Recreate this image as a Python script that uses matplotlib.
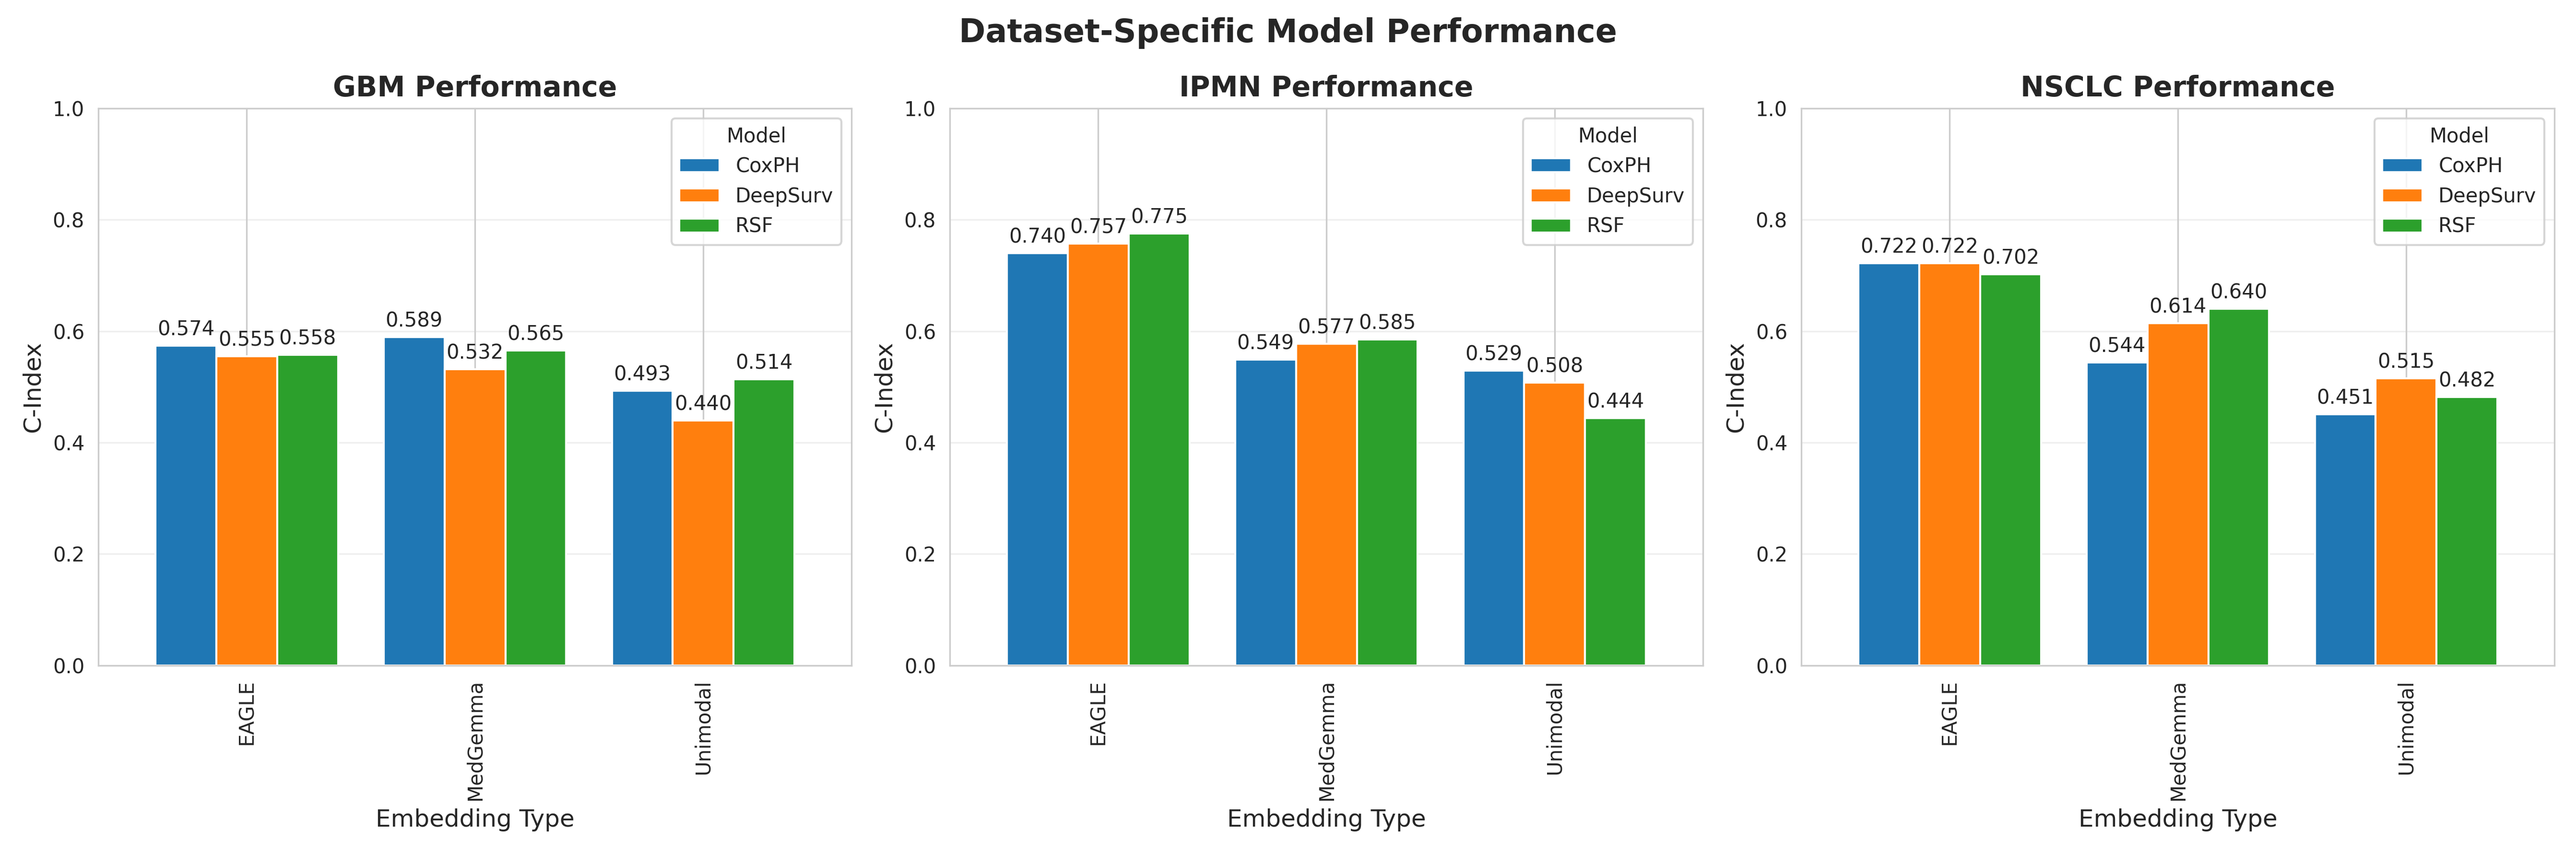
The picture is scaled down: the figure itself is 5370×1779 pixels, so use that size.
import matplotlib
matplotlib.use("Agg")
import matplotlib.pyplot as plt
import seaborn as sns
import pandas as pd

sns.set_style("whitegrid")

datasets = ["GBM", "IPMN", "NSCLC"]
embeddings = ["EAGLE", "MedGemma", "Unimodal"]
models = ["CoxPH", "DeepSurv", "RSF"]

gbm = {"CoxPH": [0.574, 0.589, 0.493], "DeepSurv": [0.555, 0.532, 0.440], "RSF": [0.558, 0.565, 0.514]}
ipmn = {"CoxPH": [0.740, 0.549, 0.529], "DeepSurv": [0.757, 0.577, 0.508], "RSF": [0.775, 0.585, 0.444]}
nsclc = {"CoxPH": [0.722, 0.544, 0.451], "DeepSurv": [0.722, 0.614, 0.515], "RSF": [0.702, 0.640, 0.482]}
values = [gbm, ipmn, nsclc]

fig, axes = plt.subplots(1, 3, figsize=(17.9, 5.93), dpi=300)

for ax, name, vals in zip(axes, datasets, values):
    df = pd.DataFrame(vals, index=embeddings)[models]
    df.plot(kind="bar", ax=ax, width=0.8, color=["#1f77b4", "#ff7f0e", "#2ca02c"])
    ax.set_title(f"{name} Performance", fontsize=14, fontweight="bold")
    ax.set_xlabel("Embedding Type", fontsize=12)
    ax.set_ylabel("C-Index", fontsize=12)
    ax.set_ylim(0, 1)
    ax.grid(axis="y", alpha=0.3)
    ax.legend(title="Model", loc="upper right")
    for c in ax.containers:
        ax.bar_label(c, fmt="%.3f", padding=3, fontsize=10)

fig.suptitle("Dataset-Specific Model Performance", fontsize=16, fontweight="bold")
plt.tight_layout()
plt.savefig("out.png", dpi=300)
